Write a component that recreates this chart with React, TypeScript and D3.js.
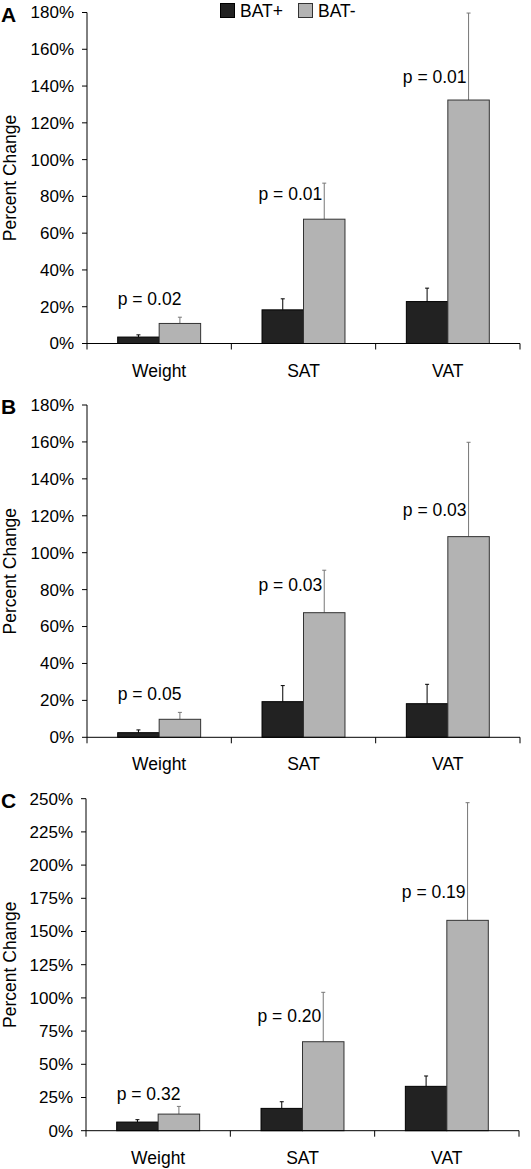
import React from "react";
import * as d3 from "d3";

const categories = ["Weight", "SAT", "VAT"];
const series = ["BAT+", "BAT-"];

// Panel A
const batPlusA = [3.5, 18.3, 22.8];
const batPlusErrA = [4.7, 24.3, 30.1];
const batMinusA = [10.9, 67.6, 132.4];
const batMinusErrA = [14.3, 87.2, 179.7];
const pLabelsA = ["p = 0.02", "p = 0.01", "p = 0.01"];
const pLabelYA = [20.7, 78.1, 141.6];
const ticksA = [0, 20, 40, 60, 80, 100, 120, 140, 160, 180];

// Panel B
const batPlusB = [2.5, 19.3, 18.2];
const batPlusErrB = [4.0, 28.0, 28.7];
const batMinusB = [9.75, 67.5, 108.7];
const batMinusErrB = [13.5, 90.5, 159.8];
const pLabelsB = ["p = 0.05", "p = 0.03", "p = 0.03"];
const pLabelYB = [20.2, 79.4, 119.9];
const ticksB = [0, 20, 40, 60, 80, 100, 120, 140, 160, 180];

// Panel C
const batPlusC = [6.5, 16.8, 33.4];
const batPlusErrC = [8.3, 21.8, 41.2];
const batMinusC = [12.5, 67.0, 158.4];
const batMinusErrC = [18.3, 104.2, 247.0];
const pLabelsC = ["p = 0.32", "p = 0.20", "p = 0.19"];
const pLabelYC = [23.1, 81.6, 175.4];
const ticksC = [0, 25, 50, 75, 100, 125, 150, 175, 200, 225, 250];

const FONT = "Arial, 'Liberation Sans', Helvetica, sans-serif";
const PLUS_FILL = "#222222";
const MINUS_FILL = "#b3b3b3";

type PanelProps = {
  letter: string;
  top: number;
  bottom: number;
  left: number;
  right: number;
  ticks: number[];
  plus: number[];
  plusErr: number[];
  minus: number[];
  minusErr: number[];
  pLabels: string[];
  pLabelY: number[];
};

function Panel(p: PanelProps) {
  const maxV = p.ticks[p.ticks.length - 1];
  const y = d3.scaleLinear().domain([0, maxV]).range([p.bottom, p.top]);
  const x = d3.scaleBand<string>().domain(categories).range([p.left, p.right]).paddingInner(0).paddingOuter(0);
  const xi = d3.scaleBand<string>().domain(series).range([0, x.bandwidth()]).paddingInner(0).paddingOuter(0.74);
  const bw = xi.bandwidth();
  const boundaries = [p.left, ...categories.map((c) => (x(c) as number) + x.bandwidth())];
  const midY = (p.top + p.bottom) / 2;

  return (
    <g fontFamily={FONT}>
      <text x={1} y={p.top + 9} fontSize={21} fontWeight="bold" fill="#000">
        {p.letter}
      </text>
      <text
        transform={`translate(16,${midY}) rotate(-90)`}
        textAnchor="middle"
        fontSize={17.5}
        fill="#000"
      >
        Percent Change
      </text>
      {/* y axis */}
      <line x1={p.left} x2={p.left} y1={p.top} y2={p.bottom} stroke="#000" strokeWidth={1} />
      {p.ticks.map((t) => (
        <g key={t}>
          <line x1={p.left - 5} x2={p.left} y1={y(t)} y2={y(t)} stroke="#000" />
          <text x={p.left - 13} y={y(t)} dy="0.35em" textAnchor="end" fontSize={17} fill="#000">
            {t}%
          </text>
        </g>
      ))}
      {/* bars */}
      {categories.map((c, i) => {
        const gx = x(c) as number;
        const px = gx + (xi("BAT+") as number);
        const mx = gx + (xi("BAT-") as number);
        const pc = px + bw / 2;
        const mc = mx + bw / 2;
        return (
          <g key={c}>
            <line x1={pc} x2={pc} y1={y(p.plus[i])} y2={y(p.plusErr[i])} stroke="#000" />
            <line x1={pc - 2} x2={pc + 2} y1={y(p.plusErr[i])} y2={y(p.plusErr[i])} stroke="#000" />
            <line x1={mc} x2={mc} y1={y(p.minus[i])} y2={y(p.minusErr[i])} stroke="#777" />
            <line x1={mc - 2} x2={mc + 2} y1={y(p.minusErr[i])} y2={y(p.minusErr[i])} stroke="#777" />
            <rect
              x={px}
              y={y(p.plus[i])}
              width={bw}
              height={p.bottom - y(p.plus[i])}
              fill={PLUS_FILL}
              stroke="#000"
              strokeWidth={1}
            />
            <rect
              x={mx}
              y={y(p.minus[i])}
              width={bw}
              height={p.bottom - y(p.minus[i])}
              fill={MINUS_FILL}
              stroke="#333"
              strokeWidth={1}
            />
            <text
              x={i === 0 ? px : mc - 2}
              y={y(p.pLabelY[i])}
              textAnchor={i === 0 ? "start" : "end"}
              fontSize={17.5}
              fill="#000"
            >
              {p.pLabels[i]}
            </text>
            <text
              x={gx + x.bandwidth() / 2}
              y={p.bottom + 33}
              textAnchor="middle"
              fontSize={17.5}
              fill="#000"
            >
              {c}
            </text>
          </g>
        );
      })}
      {/* x axis */}
      <line x1={p.left} x2={p.right} y1={p.bottom} y2={p.bottom} stroke="#000" />
      {boundaries.map((b, i) => (
        <line key={i} x1={b} x2={b} y1={p.bottom} y2={p.bottom + 6} stroke="#000" />
      ))}
    </g>
  );
}

export default function App() {
  return (
    <svg
      width={531}
      height={1169}
      style={{ position: "absolute", left: 0, top: 0, background: "#fff" }}
    >
      <rect x={0} y={0} width={531} height={1169} fill="#fff" />
      {/* legend */}
      <g fontFamily={FONT} fontSize={17.5}>
        <rect x={220.5} y={3.5} width={14} height={14} fill={PLUS_FILL} stroke="#000" />
        <text x={240} y={17} fill="#000">BAT+</text>
        <rect x={298.5} y={3.5} width={14} height={14} fill={MINUS_FILL} stroke="#333" />
        <text x={318} y={17} fill="#000">BAT-</text>
      </g>
      <Panel
        letter="A"
        top={12.5}
        bottom={343.5}
        left={87}
        right={520}
        ticks={ticksA}
        plus={batPlusA}
        plusErr={batPlusErrA}
        minus={batMinusA}
        minusErr={batMinusErrA}
        pLabels={pLabelsA}
        pLabelY={pLabelYA}
      />
      <Panel
        letter="B"
        top={405}
        bottom={737.3}
        left={87}
        right={520}
        ticks={ticksB}
        plus={batPlusB}
        plusErr={batPlusErrB}
        minus={batMinusB}
        minusErr={batMinusErrB}
        pLabels={pLabelsB}
        pLabelY={pLabelYB}
      />
      <Panel
        letter="C"
        top={798.7}
        bottom={1130.7}
        left={86}
        right={519}
        ticks={ticksC}
        plus={batPlusC}
        plusErr={batPlusErrC}
        minus={batMinusC}
        minusErr={batMinusErrC}
        pLabels={pLabelsC}
        pLabelY={pLabelYC}
      />
    </svg>
  );
}
